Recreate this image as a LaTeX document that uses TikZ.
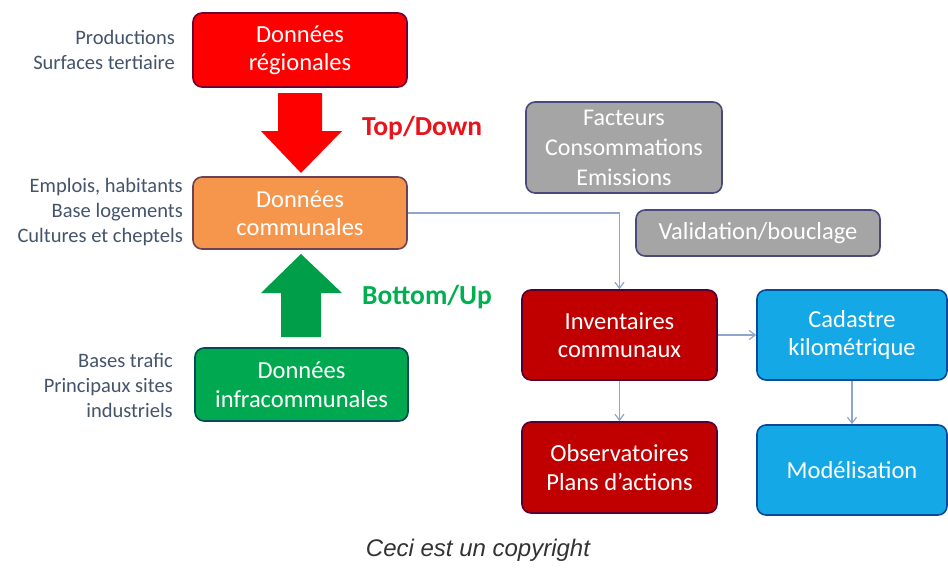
\documentclass[tikz,border=0pt]{standalone}
\usepackage{fontspec}
\setmainfont{Carlito}
\newfontfamily\capfont{Liberation Sans}
\definecolor{cRed}{HTML}{FF0000}
\definecolor{cOrange}{HTML}{F5964C}
\definecolor{cGreen}{HTML}{00A94F}
\definecolor{cGray}{HTML}{A5A5A5}
\definecolor{cDark}{HTML}{C00000}
\definecolor{cBlue}{HTML}{14A9E6}
\definecolor{cSide}{HTML}{44546A}
\definecolor{cLink}{HTML}{8EA6CC}
\definecolor{cTD}{HTML}{E8141C}
\definecolor{cBU}{HTML}{00B050}
\definecolor{cCap}{HTML}{333333}
\usetikzlibrary{arrows.meta}
\begin{document}
\begin{tikzpicture}[x=1pt,y=-1pt,
  box/.style={draw=#1!55!black!80!blue, fill=#1, line width=1.6pt, rounded corners=9pt,
    text=white, align=center, inner sep=0pt,
    font=\fontsize{24.5}{28.5}\selectfont},
  side/.style={text=cSide, align=right, anchor=east, inner sep=0pt,
    font=\fontsize{20.5}{25}\selectfont},
  link/.style={draw=cLink, line width=1.2pt, -{Straight Barb[length=6pt,width=9pt]}},
]
\useasboundingbox (0,0) rectangle (948,570);
\fill[white] (0,0) rectangle (948,570);

\node[box=cRed, minimum width=214pt, minimum height=74pt] (reg) at (300,50) {Données\\régionales};
\node[box=cOrange, minimum width=214pt, minimum height=72pt] (com) at (300,213) {Données\\communales};
\node[box=cGreen, minimum width=213pt, minimum height=73pt] (infra) at (301.5,384.5) {Données\\infracommunales};
\node[box=cGray, minimum width=196pt, minimum height=91pt, font=\fontsize{24}{30}\selectfont] (fact) at (624,147.5) {Facteurs\\Consommations\\Emissions};
\node[box=cGray, minimum width=244pt, minimum height=46pt] (valid) at (758,233) {Validation/bouclage};
\node[box=cDark, minimum width=195pt, minimum height=90pt] (inv) at (619.5,335) {Inventaires\\communaux};
\node[box=cDark, minimum width=195pt, minimum height=91pt] (obs) at (619.5,467.5) {Observatoires\\Plans d’actions};
\node[box=cBlue, minimum width=190pt, minimum height=90pt] (cad) at (852,335) {Cadastre\\kilométrique};
\node[box=cBlue, minimum width=190pt, minimum height=90pt] (mod) at (852,470) {Modélisation};

\node[side] (s1) at (175,50) {Productions\\Surfaces tertiaire};
\node[side] (s2) at (183,212) {Emplois, habitants\\Base logements\\Cultures et cheptels};
\node[side] (s3) at (173,385) {Bases trafic\\Principaux sites\\industriels};

% big arrows
\fill[cRed] (278,93) -- (322,93) -- (322,131) -- (342,131) -- (301,173) -- (261,131) -- (278,131) -- cycle;
\fill[cBU!90!black] (281,337) -- (321,337) -- (321,293) -- (342,293) -- (301,254) -- (261,293) -- (281,293) -- cycle;

\node[text=cTD, anchor=west, inner sep=0pt, font=\bfseries\fontsize{27.5}{30}\selectfont] (td) at (362,128) {Top/Down};
\node[text=cBU, anchor=west, inner sep=0pt, font=\bfseries\fontsize{27.5}{30}\selectfont] (bu) at (362,297) {Bottom/Up};

\draw[link] (com.east) -| (inv.north);
\draw[link] (inv.east) -- (cad.west);
\draw[link] (inv.south) -- (obs.north);
\draw[link] (cad.south) -- (mod.north);

\node[text=cCap, inner sep=0pt, font=\capfont\itshape\fontsize{24}{26}\selectfont] (cap) at (478,550) {Ceci est un copyright};
\end{tikzpicture}
\end{document}
